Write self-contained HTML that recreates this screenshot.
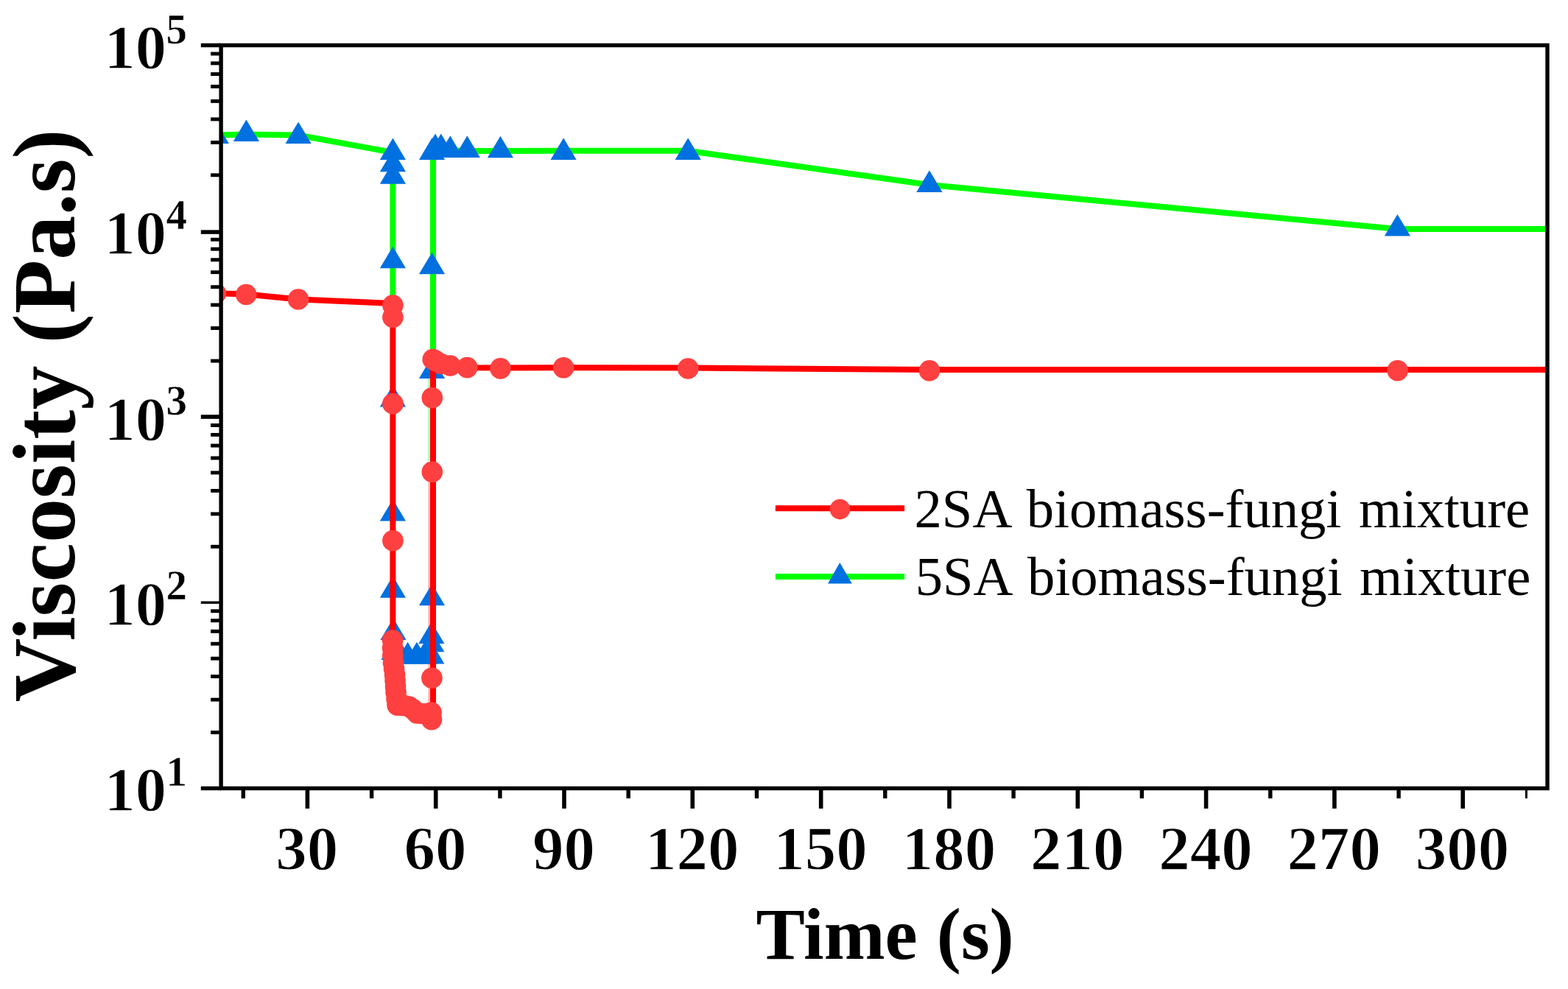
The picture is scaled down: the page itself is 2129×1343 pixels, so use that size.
<!DOCTYPE html>
<html lang="en"><head><meta charset="utf-8"><title>Viscosity vs Time</title>
<style>html,body{margin:0;padding:0;background:#fff;}body{width:2129px;height:1343px;overflow:hidden;}svg{display:block;}text{font-family:"Liberation Serif",serif;fill:#000;}</style>
</head><body>
<svg width="2129" height="1343" viewBox="0 0 2129 1343">
<rect x="0" y="0" width="2129" height="1343" fill="#ffffff"/>
<defs><clipPath id="plot"><rect x="300.1" y="61.5" width="1800.9" height="1009.0"/></clipPath></defs>
<g clip-path="url(#plot)">
<polyline fill="none" stroke="#00ff00" stroke-width="8.0" stroke-linejoin="miter" points="290.0,183.6 334.4,182.6 405.1,183.5 533.4,207.0 533.4,405.0"/>
<polyline fill="none" stroke="#00ff00" stroke-width="8.0" stroke-linejoin="miter" points="588.0,480.0 588.0,206.0 591.0,203.0 598.8,203.0 611.3,204.5 634.3,204.9 679.4,204.9 765.1,204.8 934.2,204.8 1261.9,251.0 1897.4,311.0 2110.0,311.0"/>
<line x1="582.6" y1="514" x2="582.6" y2="626" stroke="#a8ffc0" stroke-width="3"/>
<line x1="582.6" y1="655" x2="582.6" y2="955" stroke="#ffc0c0" stroke-width="3"/>
<polygon fill="#0070e0" points="293.3,165.4 310.9,195.0 275.7,195.0"/>
<polygon fill="#0070e0" points="334.4,162.5 352.0,192.1 316.8,192.1"/>
<polygon fill="#0070e0" points="405.1,165.4 422.7,195.0 387.5,195.0"/>
<polygon fill="#0070e0" points="533.4,187.4 551.0,217.0 515.8,217.0"/>
<polygon fill="#0070e0" points="533.4,203.7 551.0,233.3 515.8,233.3"/>
<polygon fill="#0070e0" points="533.4,220.1 551.0,249.7 515.8,249.7"/>
<polygon fill="#0070e0" points="533.4,334.7 551.0,364.3 515.8,364.3"/>
<polygon fill="#0070e0" points="533.4,522.8 551.0,552.4 515.8,552.4"/>
<polygon fill="#0070e0" points="533.4,678.0 551.0,707.6 515.8,707.6"/>
<polygon fill="#0070e0" points="533.4,782.1 551.0,811.7 515.8,811.7"/>
<polygon fill="#0070e0" points="534.0,839.4 551.6,869.0 516.4,869.0"/>
<polygon fill="#0070e0" points="535.0,866.4 552.6,896.0 517.4,896.0"/>
<polygon fill="#0070e0" points="539.0,871.8 556.6,901.4 521.4,901.4"/>
<polygon fill="#0070e0" points="544.0,871.8 561.6,901.4 526.4,901.4"/>
<polygon fill="#0070e0" points="553.6,871.8 571.2,901.4 536.0,901.4"/>
<polygon fill="#0070e0" points="565.9,871.8 583.5,901.4 548.3,901.4"/>
<polygon fill="#0070e0" points="577.0,871.8 594.6,901.4 559.4,901.4"/>
<polygon fill="#0070e0" points="585.8,871.8 603.4,901.4 568.2,901.4"/>
<polygon fill="#0070e0" points="585.8,855.7 603.4,885.3 568.2,885.3"/>
<polygon fill="#0070e0" points="585.8,844.4 603.4,874.0 568.2,874.0"/>
<polygon fill="#0070e0" points="586.5,792.7 604.1,822.3 568.9,822.3"/>
<polygon fill="#0070e0" points="586.5,484.3 604.1,513.9 568.9,513.9"/>
<polygon fill="#0070e0" points="586.5,342.7 604.1,372.3 568.9,372.3"/>
<polygon fill="#0070e0" points="586.5,187.3 604.1,216.9 568.9,216.9"/>
<polygon fill="#0070e0" points="591.0,181.4 608.6,211.0 573.4,211.0"/>
<polygon fill="#0070e0" points="598.8,181.4 616.4,211.0 581.2,211.0"/>
<polygon fill="#0070e0" points="611.3,184.3 628.9,213.9 593.7,213.9"/>
<polygon fill="#0070e0" points="634.3,184.3 651.9,213.9 616.7,213.9"/>
<polygon fill="#0070e0" points="679.4,184.7 697.0,214.3 661.8,214.3"/>
<polygon fill="#0070e0" points="765.1,187.3 782.7,216.9 747.5,216.9"/>
<polygon fill="#0070e0" points="934.2,187.3 951.8,216.9 916.6,216.9"/>
<polygon fill="#0070e0" points="1261.9,231.3 1279.5,260.9 1244.3,260.9"/>
<polygon fill="#0070e0" points="1897.4,291.0 1915.0,320.6 1879.8,320.6"/>
<polyline fill="none" stroke="#ff0000" stroke-width="8.0" stroke-linejoin="round" points="290.0,398.3 334.2,399.5 405.0,406.5 533.4,412.0 533.4,869.5 534.0,900.0 536.5,924.0 538.0,945.0 540.0,957.0 556.0,960.0 566.0,968.0 578.0,969.3 586.5,977.0 588.0,968.0 588.0,488.0 598.8,494.0 611.3,496.6 634.3,499.2 679.5,499.6 765.1,499.3 934.2,499.6 1262.0,501.9 1897.6,501.9 2110.0,501.9"/>
<circle fill="#ff4040" cx="293.0" cy="398.5" r="14.3"/>
<circle fill="#ff4040" cx="334.2" cy="400.0" r="14.3"/>
<circle fill="#ff4040" cx="405.0" cy="406.5" r="14.3"/>
<circle fill="#ff4040" cx="533.4" cy="414.6" r="14.3"/>
<circle fill="#ff4040" cx="533.4" cy="430.8" r="14.3"/>
<circle fill="#ff4040" cx="533.4" cy="548.2" r="14.3"/>
<circle fill="#ff4040" cx="533.4" cy="734.2" r="14.3"/>
<circle fill="#ff4040" cx="533.1" cy="869.5" r="14.3"/>
<circle fill="#ff4040" cx="533.1" cy="880.0" r="14.3"/>
<circle fill="#ff4040" cx="533.3" cy="890.0" r="14.3"/>
<circle fill="#ff4040" cx="534.0" cy="900.0" r="14.3"/>
<circle fill="#ff4040" cx="535.0" cy="908.0" r="14.3"/>
<circle fill="#ff4040" cx="536.0" cy="916.0" r="14.3"/>
<circle fill="#ff4040" cx="536.5" cy="924.0" r="14.3"/>
<circle fill="#ff4040" cx="537.0" cy="932.0" r="14.3"/>
<circle fill="#ff4040" cx="537.5" cy="940.0" r="14.3"/>
<circle fill="#ff4040" cx="538.5" cy="949.0" r="14.3"/>
<circle fill="#ff4040" cx="539.5" cy="957.6" r="14.3"/>
<circle fill="#ff4040" cx="545.0" cy="958.0" r="14.3"/>
<circle fill="#ff4040" cx="550.0" cy="958.2" r="14.3"/>
<circle fill="#ff4040" cx="556.0" cy="959.8" r="14.3"/>
<circle fill="#ff4040" cx="561.0" cy="963.5" r="14.3"/>
<circle fill="#ff4040" cx="566.0" cy="968.4" r="14.3"/>
<circle fill="#ff4040" cx="572.0" cy="969.0" r="14.3"/>
<circle fill="#ff4040" cx="578.0" cy="969.3" r="14.3"/>
<circle fill="#ff4040" cx="585.6" cy="967.6" r="14.3"/>
<circle fill="#ff4040" cx="586.0" cy="977.1" r="14.3"/>
<circle fill="#ff4040" cx="586.4" cy="920.7" r="14.3"/>
<circle fill="#ff4040" cx="586.8" cy="640.8" r="14.3"/>
<circle fill="#ff4040" cx="586.8" cy="540.2" r="14.3"/>
<circle fill="#ff4040" cx="587.7" cy="488.0" r="14.3"/>
<circle fill="#ff4040" cx="591.5" cy="490.0" r="14.3"/>
<circle fill="#ff4040" cx="598.8" cy="494.0" r="14.3"/>
<circle fill="#ff4040" cx="611.3" cy="496.6" r="14.3"/>
<circle fill="#ff4040" cx="634.3" cy="499.1" r="14.3"/>
<circle fill="#ff4040" cx="679.5" cy="500.4" r="14.3"/>
<circle fill="#ff4040" cx="765.1" cy="499.3" r="14.3"/>
<circle fill="#ff4040" cx="934.2" cy="500.5" r="14.3"/>
<circle fill="#ff4040" cx="1262.0" cy="503.4" r="14.3"/>
<circle fill="#ff4040" cx="1897.6" cy="503.2" r="14.3"/>
</g>
<g stroke="#000" fill="none" stroke-linecap="butt">
<rect x="300.1" y="61.5" width="1800.9" height="1009.0" stroke-width="5.4"/>
<line x1="272.8" y1="61.5" x2="300.1" y2="61.5" stroke-width="5.4"/>
<line x1="272.8" y1="315.1" x2="300.1" y2="315.1" stroke-width="5.5"/>
<line x1="272.8" y1="566.0" x2="300.1" y2="566.0" stroke-width="5.6"/>
<line x1="272.8" y1="818.2" x2="300.1" y2="818.2" stroke-width="3.4"/>
<line x1="272.8" y1="1070.5" x2="300.1" y2="1070.5" stroke-width="5.4"/>
<line x1="286.1" y1="237.8" x2="300.1" y2="237.8" stroke-width="4.9"/>
<line x1="286.1" y1="193.4" x2="300.1" y2="193.4" stroke-width="4.9"/>
<line x1="286.1" y1="161.9" x2="300.1" y2="161.9" stroke-width="4.9"/>
<line x1="286.1" y1="137.4" x2="300.1" y2="137.4" stroke-width="4.9"/>
<line x1="286.1" y1="117.5" x2="300.1" y2="117.5" stroke-width="4.9"/>
<line x1="286.1" y1="100.6" x2="300.1" y2="100.6" stroke-width="4.9"/>
<line x1="286.1" y1="85.9" x2="300.1" y2="85.9" stroke-width="4.9"/>
<line x1="286.1" y1="73.0" x2="300.1" y2="73.0" stroke-width="4.9"/>
<line x1="286.1" y1="490.1" x2="300.1" y2="490.1" stroke-width="4.9"/>
<line x1="286.1" y1="445.6" x2="300.1" y2="445.6" stroke-width="4.9"/>
<line x1="286.1" y1="414.1" x2="300.1" y2="414.1" stroke-width="4.9"/>
<line x1="286.1" y1="389.7" x2="300.1" y2="389.7" stroke-width="4.9"/>
<line x1="286.1" y1="369.7" x2="300.1" y2="369.7" stroke-width="4.9"/>
<line x1="286.1" y1="352.8" x2="300.1" y2="352.8" stroke-width="4.9"/>
<line x1="286.1" y1="338.2" x2="300.1" y2="338.2" stroke-width="4.9"/>
<line x1="286.1" y1="325.3" x2="300.1" y2="325.3" stroke-width="4.9"/>
<line x1="286.1" y1="742.3" x2="300.1" y2="742.3" stroke-width="4.9"/>
<line x1="286.1" y1="697.9" x2="300.1" y2="697.9" stroke-width="4.9"/>
<line x1="286.1" y1="666.4" x2="300.1" y2="666.4" stroke-width="4.9"/>
<line x1="286.1" y1="641.9" x2="300.1" y2="641.9" stroke-width="4.9"/>
<line x1="286.1" y1="622.0" x2="300.1" y2="622.0" stroke-width="4.9"/>
<line x1="286.1" y1="605.1" x2="300.1" y2="605.1" stroke-width="4.9"/>
<line x1="286.1" y1="590.4" x2="300.1" y2="590.4" stroke-width="4.9"/>
<line x1="286.1" y1="577.5" x2="300.1" y2="577.5" stroke-width="4.9"/>
<line x1="286.1" y1="994.6" x2="300.1" y2="994.6" stroke-width="4.9"/>
<line x1="286.1" y1="950.1" x2="300.1" y2="950.1" stroke-width="4.9"/>
<line x1="286.1" y1="918.6" x2="300.1" y2="918.6" stroke-width="4.9"/>
<line x1="286.1" y1="894.2" x2="300.1" y2="894.2" stroke-width="4.9"/>
<line x1="286.1" y1="874.2" x2="300.1" y2="874.2" stroke-width="4.9"/>
<line x1="286.1" y1="857.3" x2="300.1" y2="857.3" stroke-width="4.9"/>
<line x1="286.1" y1="842.7" x2="300.1" y2="842.7" stroke-width="4.9"/>
<line x1="286.1" y1="829.8" x2="300.1" y2="829.8" stroke-width="4.9"/>
<line x1="417.4" y1="1070.5" x2="417.4" y2="1098.0" stroke-width="5.6"/>
<line x1="591.7" y1="1070.5" x2="591.7" y2="1098.0" stroke-width="5.6"/>
<line x1="766.0" y1="1070.5" x2="766.0" y2="1098.0" stroke-width="5.6"/>
<line x1="940.3" y1="1070.5" x2="940.3" y2="1098.0" stroke-width="5.6"/>
<line x1="1114.7" y1="1070.5" x2="1114.7" y2="1098.0" stroke-width="5.6"/>
<line x1="1289.0" y1="1070.5" x2="1289.0" y2="1098.0" stroke-width="5.6"/>
<line x1="1463.3" y1="1070.5" x2="1463.3" y2="1098.0" stroke-width="5.6"/>
<line x1="1637.6" y1="1070.5" x2="1637.6" y2="1098.0" stroke-width="5.6"/>
<line x1="1811.9" y1="1070.5" x2="1811.9" y2="1098.0" stroke-width="5.6"/>
<line x1="1986.2" y1="1070.5" x2="1986.2" y2="1098.0" stroke-width="5.6"/>
<line x1="330.3" y1="1070.5" x2="330.3" y2="1084.2" stroke-width="5.4"/>
<line x1="504.6" y1="1070.5" x2="504.6" y2="1084.2" stroke-width="5.4"/>
<line x1="678.9" y1="1070.5" x2="678.9" y2="1084.2" stroke-width="5.4"/>
<line x1="853.2" y1="1070.5" x2="853.2" y2="1084.2" stroke-width="5.4"/>
<line x1="1027.5" y1="1070.5" x2="1027.5" y2="1084.2" stroke-width="5.4"/>
<line x1="1201.8" y1="1070.5" x2="1201.8" y2="1084.2" stroke-width="5.4"/>
<line x1="1376.1" y1="1070.5" x2="1376.1" y2="1084.2" stroke-width="5.4"/>
<line x1="1550.4" y1="1070.5" x2="1550.4" y2="1084.2" stroke-width="5.4"/>
<line x1="1724.8" y1="1070.5" x2="1724.8" y2="1084.2" stroke-width="5.4"/>
<line x1="1899.1" y1="1070.5" x2="1899.1" y2="1084.2" stroke-width="5.4"/>
<line x1="2072.4" y1="1070.5" x2="2072.4" y2="1084.2" stroke-width="3.0"/>
</g>
<g font-weight="bold" font-size="85px" text-anchor="middle" stroke="#fff" stroke-width="1.3" stroke-linejoin="round">
<text x="416.8" y="1181.0">30</text>
<text x="591.1" y="1181.0">60</text>
<text x="765.4" y="1181.0">90</text>
<text x="939.7" y="1181.0">120</text>
<text x="1114.1" y="1181.0">150</text>
<text x="1288.4" y="1181.0">180</text>
<text x="1462.7" y="1181.0">210</text>
<text x="1637.0" y="1181.0">240</text>
<text x="1811.3" y="1181.0">270</text>
<text x="1985.6" y="1181.0">300</text>
</g>
<g font-weight="bold" font-size="84.5px" text-anchor="start" stroke="#fff" stroke-width="1.3" stroke-linejoin="round">
<text x="141.5" y="93.2">10<tspan font-size="57px" stroke-width="0.5" dy="-34.5" dx="-0.5">5</tspan></text>
<text x="141.5" y="345.3">10<tspan font-size="57px" stroke-width="0.5" dy="-34.5" dx="-0.5">4</tspan></text>
<text x="141.5" y="597.7">10<tspan font-size="57px" stroke-width="0.5" dy="-34.5" dx="-0.5">3</tspan></text>
<text x="141.5" y="848.9">10<tspan font-size="57px" stroke-width="0.5" dy="-34.5" dx="-0.5">2</tspan></text>
<text x="141.5" y="1101.0">10<tspan font-size="57px" stroke-width="0.5" dy="-34.5" dx="-0.5">1</tspan></text>
</g>
<text x="1201.6" y="1302.0" font-weight="bold" font-size="99.5px" word-spacing="1.2" text-anchor="middle">Time (s)</text>
<text transform="translate(100.6,564.3) rotate(-90)" font-weight="bold" font-size="120px" letter-spacing="0.15" text-anchor="middle">Viscosity (Pa.s)</text>
<line x1="1052.9" y1="690.2" x2="1228.1" y2="690.2" stroke="#ff0000" stroke-width="8"/>
<circle cx="1140.5" cy="691.6" r="13.8" fill="#ff4040"/>
<line x1="1052.9" y1="783.0" x2="1228.1" y2="783.0" stroke="#00ff00" stroke-width="8"/>
<polygon fill="#0070e0" points="1140.3,764.0 1156.8,792.4 1124.0,792.4"/>
<text x="1241.5" y="716.0" font-size="74.7px" word-spacing="5">2SA biomass-fungi mixture</text>
<text x="1242.7" y="808.3" font-size="74.7px" word-spacing="5">5SA biomass-fungi mixture</text>
</svg>
</body></html>
